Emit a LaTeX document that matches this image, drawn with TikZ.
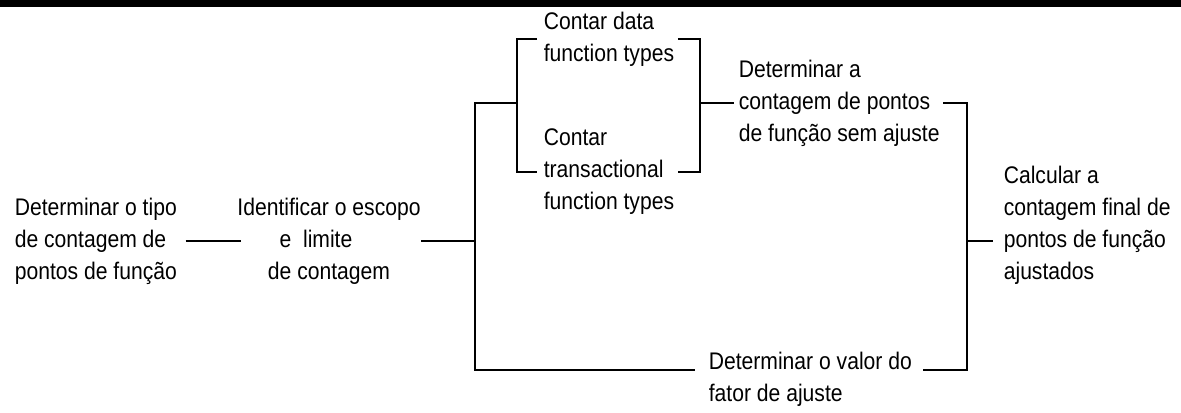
\documentclass[tikz,border=0pt]{standalone}
\usepackage{fontspec}
\setmainfont{Liberation Sans}[FakeStretch=0.88]
\usepackage{tikz}

\begin{document}
\begin{tikzpicture}[x=0.5pt, y=-0.5pt, line width=0.8pt,
  stepnote/.style={inner sep=0pt, align=left, anchor=west, font=\fontsize{12}{16}\selectfont}]
\useasboundingbox (0, 0) rectangle (1181, 412);
\fill[black] (0, 0) rectangle (1181, 7);

\node[stepnote] (tipo) at (14, 241) {Determinar o tipo\\de contagem de\\pontos de função};
\node[stepnote, align=center, anchor=center] (escopo) at (329, 241) {Identificar o escopo\\e\ \ limite\rule{13pt}{0pt}\\de contagem};
\node[stepnote] (data) at (543, 39) {Contar data\\function types};
\node[stepnote] (trans) at (543, 172) {Contar\\transactional\\function types};
\node[stepnote] (sem) at (738, 103) {Determinar a\\contagem de pontos\\de função sem ajuste};
\node[stepnote] (valor) at (708, 379) {Determinar o valor do\\fator de ajuste};
\node[stepnote] (final) at (1003, 225) {Calcular a\\contagem final de\\pontos de função\\ajustados};

\coordinate (split) at (475, 103);
\coordinate (llow) at (475, 370);
\coordinate (lb) at (517, 103);
\coordinate (rb) at (700, 103);
\coordinate (rtop) at (967, 103);
\coordinate (rmid) at (967, 241);
\coordinate (rlow) at (967, 370);

\draw ([xshift=4pt]tipo.east) -- ([xshift=2pt]escopo.west);
\draw (escopo.east) -- (escopo.east -| split);
\draw (lb) -- (split) -- (llow) -- ([xshift=-6.5pt]valor.west |- llow);
\draw ([xshift=-3pt]data.west) -| (lb) |- ([xshift=-3pt]trans.west);
\draw ([xshift=1.5pt]data.east) -| (rb) |- ([xshift=1.5pt]trans.east);
\draw (rb) -- ([xshift=-2pt]sem.west);
\draw ([xshift=-12pt]rtop) -- (rtop) -- (rlow) -- ([xshift=5pt]valor.east |- rlow);
\draw (rmid) -- ([xshift=-5pt]final.west |- rmid);

\end{tikzpicture}
\end{document}
